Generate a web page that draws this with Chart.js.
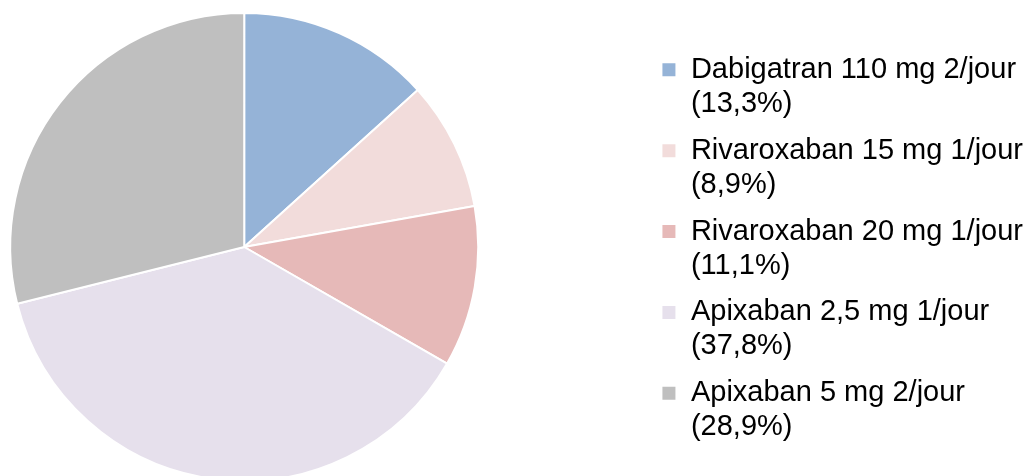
<!DOCTYPE html>
<html>
<head>
<meta charset="utf-8">
<script src="https://cdn.jsdelivr.net/npm/chart.js@4"></script>
<style>
  body { margin: 0; background: #fff; overflow: hidden; }
  /* canvas plus large que la fenêtre, décalé à gauche pour placer le camembert */
  #wrap { width: 1193px; height: 476px; margin-left: -160px; }
</style>
</head>
<body>
<div id="wrap"><canvas id="myPieChart"></canvas></div>
<script>
// ------------------ Données -------------------
var medNames = [
  'Dabigatran 110 mg 2/jour',
  'Rivaroxaban 15 mg 1/jour',
  'Rivaroxaban 20 mg 1/jour',
  'Apixaban 2,5 mg 1/jour',
  'Apixaban 5 mg 2/jour'
];
var medPercents = [13.3, 8.9, 11.1, 37.8, 28.9];
var medColors = ['#95B3D7', '#F2DCDB', '#E6B9B8', '#E6E0EC', '#BFBFBF'];

// libellé sur deux lignes : nom + (xx,x%)
var pieLabels = medNames.map(function (name, i) {
  return [name, '(' + medPercents[i].toFixed(1).replace('.', ',') + '%)'];
});

var pieData = {
  labels: pieLabels,
  datasets: [{
    data: medPercents,
    backgroundColor: medColors,
    borderColor: '#fff',
    borderWidth: 2,
    radius: 234
  }]
};

var pieOptions = {
  responsive: true,
  maintainAspectRatio: false,
  animation: false,
  layout: {
    padding: { left: 0, top: 18, right: 0, bottom: 0 }
  },
  plugins: {
    tooltip: { enabled: false },
    legend: {
      position: 'right',
      align: 'center',
      // titre vide : décale juste la légende de quelques pixels vers le bas
      title: { display: true, text: '', padding: 0, font: { size: 8, lineHeight: 1 } },
      labels: {
        color: '#000',
        boxWidth: 15,
        boxHeight: 15,
        padding: 13,
        font: { family: '"Liberation Sans", Arial, sans-serif', size: 29, lineHeight: 1.17 }
      }
    }
  }
};

// Vẽ biểu đồ pie
var pieCtx = document.getElementById('myPieChart').getContext('2d');
var myPieChart = new Chart(pieCtx, {
  type: 'pie',
  data: pieData,
  options: pieOptions
});
</script>
</body>
</html>
